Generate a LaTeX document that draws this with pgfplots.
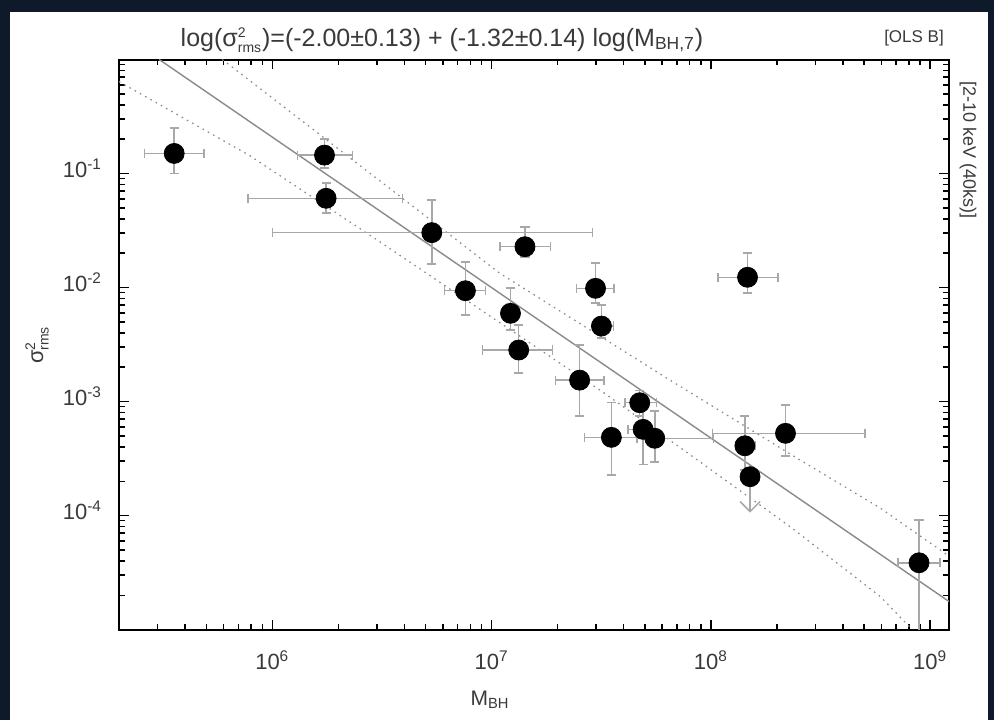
\documentclass[border=0pt]{standalone}
\usepackage{pgfplots}
\pgfplotsset{compat=1.18}
\usepackage{fontspec}
\setmainfont{Liberation Sans}
\usetikzlibrary{arrows.meta}
\definecolor{navy}{HTML}{0E1A2A}
\definecolor{ebar}{HTML}{A8A8A8}
\definecolor{fitline}{HTML}{8A8A8A}
\definecolor{txt}{HTML}{3A3A3A}

\pgfplotstableread{
x       y        xp      xm      yp        ym
3.57e5  0.150    1.32e5  0.96e5  0.101     0.0496
1.73e6  0.145    0.59e6  0.43e6  0.056     0.033
1.76e6  0.0606   2.17e6  0.984e6 0.022     0.0156
5.34e6  0.0303   2.356e7 4.34e6  0.0283    0.0142
7.6e6   0.00937  1.8e6   1.5e6   0.00743   0.00363
1.22e7  0.00594  0.11e7  0.10e7  0.00396   0.0017
1.33e7  0.00283  0.57e7  0.42e7  0.00186   0.00105
1.42e7  0.0228   0.44e7  0.33e7  0.0113    0.0042
2.98e7  0.00984  0.64e7  0.54e7  0.00656   0.00253
3.17e7  0.00459  0.43e7  0.28e7  0.00243   0.00098
1.47e8  0.0123   0.55e8  0.39e8  0.0078    0.00335
2.52e7  0.00154  0.73e7  0.56e7  0.00159   0.000794
4.74e7  0.000976 0.91e7  0.69e7  0.00027   0.00023
3.52e7  0.000485 1.08e7  0.86e7  0.000491  0.000258
4.91e7  0.00057  0.69e7  0.72e7  0.00028   0.000289
5.55e7  0.000476 4.75e7  0.95e7  0.00035   0.00018
1.43e8  0.000409 0.17e8  0.13e8  0.000337  0.000159
2.19e8  0.000526 2.86e8  1.17e8  0.000405  0.000193
8.9e8   3.85e-5  2.2e8   1.75e8  5.25e-5   3.84e-5
}\datatable

\newcommand{\sig}{$\mbox{σ}^{\mbox{\scriptsize 2}}_{\mbox{\scriptsize rms}}$}

\begin{document}
\begin{tikzpicture}
\fill[navy] (0pt,0pt) rectangle (497pt,360pt);
\fill[white] (5pt,0pt) rectangle (494pt,354pt);
\begin{axis}[
  at={(59.5pt,45.25pt)}, anchor=south west,
  scale only axis, width=415pt, height=285pt,
  xmode=log, ymode=log,
  xmin=2e5, xmax=1.22e9, ymin=1e-5, ymax=1,
  xtick={1e5,1e6,1e7,1e8,1e9,1e10},
  xticklabels={{},10\textsuperscript{6},10\textsuperscript{7},10\textsuperscript{8},10\textsuperscript{9},{}},
  ytick={1e-6,1e-5,1e-4,1e-3,1e-2,1e-1,1},
  yticklabels={{},{},10\textsuperscript{-4},10\textsuperscript{-3},10\textsuperscript{-2},10\textsuperscript{-1},{}},
  tick align=inside,
  major tick length=5pt, minor tick length=3pt,
  every tick/.style={black, line width=0.7pt},
  axis line style={black, line width=1pt},
  tick label style={txt, font=\fontsize{11}{12}\selectfont},
  xticklabel style={yshift=-7pt},
  yticklabel style={xshift=-5pt, yshift=2.5pt},
  clip=true,
]
\addplot[fitline, line width=0.7pt] coordinates {(3.05e5,1) (1.22e9,1.76e-5)};
\addplot[fitline, line width=0.6pt, dash pattern=on 0.8pt off 2.2pt] coordinates {
(5.92e5,1) (2.51e6,0.1175) (1.09e7,0.01334) (6.5e7,1.545e-3) (2.55e8,3.07e-4) (5.92e8,1.164e-4) (1.22e9,4.4e-5)};
\addplot[fitline, line width=0.6pt, dash pattern=on 0.8pt off 2.2pt] coordinates {
(2e5,0.64) (7.85e5,0.1445) (3.16e6,0.0245) (3.28e7,1.18e-3) (2.3e8,7.98e-5) (5.92e8,1.95e-5) (8.28e8,1e-5)};
\addplot[ebar, line width=0.75pt, -{Straight Barb[length=5pt,width=10pt]}] coordinates {(1.51e8,2.19e-4) (1.51e8,1.06e-4)};
\addplot[black, only marks, mark=*, mark size=5pt, mark options={fill=black, draw=black},
  error bars/.cd, x dir=both, y dir=both, x explicit, y explicit,
  error mark=-,
  error bar style={ebar, line width=0.75pt},
  error mark options={ebar, rotate=90, mark size=2.3pt, line width=0.75pt}]
  table[x=x, y=y, x error plus=xp, x error minus=xm, y error plus=yp, y error minus=ym] {\datatable};
\addplot[black, only marks, mark=*, mark size=5pt, mark options={fill=black, draw=black}] coordinates {(1.51e8,2.19e-4)};
\end{axis}
\node[txt, font=\fontsize{12.5}{14}\selectfont] at (221pt,340pt) {log(\sig)=(-2.00±0.13) + (-1.32±0.14) log(M\textsubscript{BH,7})};
\node[txt, font=\fontsize{8.5}{10}\selectfont] at (457pt,341pt) {[OLS B]};
\node[txt, font=\fontsize{9}{10}\selectfont, rotate=-90] at (484pt,285pt) {[2-10 keV (40ks)]};
\node[txt, font=\fontsize{10.5}{12}\selectfont] at (245pt,10pt) {M\textsubscript{BH}};
\node[txt, font=\fontsize{11}{12}\selectfont, rotate=90] at (18.5pt,187.5pt) {\sig};
\end{tikzpicture}
\end{document}
